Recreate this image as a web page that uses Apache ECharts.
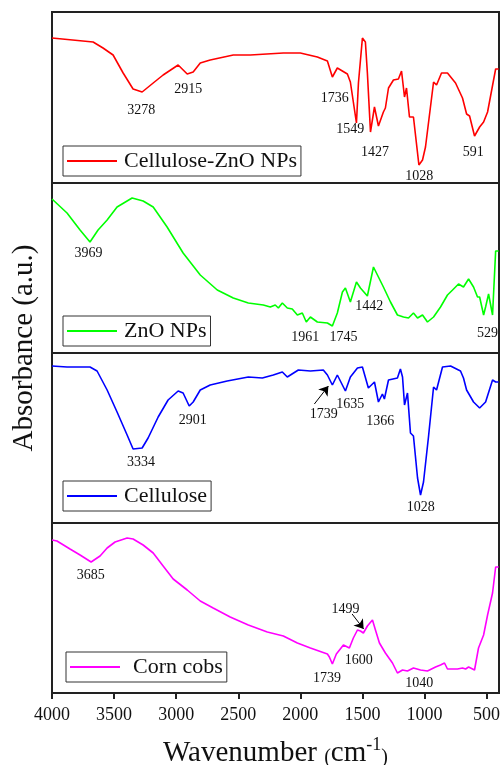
<!DOCTYPE html>
<html>
<head>
<meta charset="utf-8">
<script src="https://cdn.jsdelivr.net/npm/echarts@6/dist/echarts.min.js"></script>
<style>
  html, body { margin: 0; padding: 0; background: #fff; }
  #chart { width: 500px; height: 765px; }
</style>
</head>
<body>
<div id="chart"></div>
<script>
// spectra as [wavenumber, absorbance (a.u.)]
const cellZnoData = [[4000,145],[3669,141],[3589,135],[3508,128],[3427,110],[3347,94],[3274,91],[3185,100],[3105,108],[2984,118],[2911,109],[2863,111],[2806,120],[2726,123],[2540,128],[2403,128],[2137,130],[2000,130],[1863,126],[1782,122],[1742,106],[1702,115],[1621,109],[1597,101],[1581,100],[1548,60],[1532,100],[1500,145],[1476,141],[1460,110],[1435,51],[1403,76],[1371,57],[1331,71],[1315,75],[1290,95],[1250,103],[1210,104],[1185,112],[1161,86],[1145,95],[1121,66],[1089,66],[1045,18],[1016,23],[992,36],[927,101],[903,98],[863,110],[815,110],[750,100],[694,85],[661,69],[637,67],[597,47],[556,56],[524,61],[492,71],[476,70],[427,114],[403,114]]

const znoData = [[4000,154],[3879,140],[3774,123],[3694,111],[3629,123],[3556,133],[3476,146],[3355,155],[3266,152],[3185,146],[3073,126],[2944,100],[2806,78],[2669,63],[2540,55],[2419,50],[2298,48],[2242,46],[2202,48],[2177,45],[2145,50],[2105,45],[2065,44],[2024,38],[1984,40],[1952,31],[1919,36],[1863,31],[1782,30],[1742,27],[1702,40],[1661,61],[1637,65],[1597,51],[1548,71],[1516,65],[1460,57],[1411,86],[1371,76],[1331,66],[1274,51],[1218,38],[1169,36],[1129,35],[1089,40],[1056,35],[1016,38],[976,31],[927,36],[871,46],[815,58],[774,63],[726,69],[686,66],[645,74],[605,66],[573,56],[556,56],[524,38],[508,46],[484,59],[452,38],[427,102],[403,102]]

const celluloseData = [[4000,157],[3879,156],[3694,156],[3637,152],[3556,133],[3476,111],[3395,88],[3347,74],[3274,75],[3226,85],[3145,106],[3065,123],[2984,132],[2944,130],[2895,117],[2863,121],[2806,133],[2726,138],[2589,142],[2419,146],[2306,145],[2218,148],[2145,151],[2105,146],[2016,153],[1919,152],[1815,153],[1782,148],[1742,138],[1702,148],[1637,132],[1597,146],[1540,155],[1500,156],[1452,135],[1403,141],[1371,121],[1339,129],[1323,124],[1290,143],[1218,145],[1194,154],[1177,146],[1161,118],[1137,130],[1113,90],[1089,87],[1056,45],[1032,28],[1008,41],[968,86],[927,136],[903,133],[855,156],[790,157],[710,152],[686,145],[661,133],[645,134],[605,121],[556,115],[508,121],[452,143],[427,141],[403,141]]

const cornData = [[4000,153],[3960,152],[3855,144],[3774,138],[3685,131],[3613,137],[3556,145],[3492,151],[3395,155],[3347,154],[3266,148],[3185,140],[3105,127],[3024,114],[2911,103],[2806,92],[2702,85],[2565,76],[2419,68],[2266,61],[2137,57],[2024,50],[1919,45],[1782,39],[1766,36],[1742,29],[1710,39],[1653,48],[1605,45],[1573,55],[1540,63],[1516,62],[1492,60],[1460,67],[1419,73],[1395,63],[1363,50],[1315,40],[1258,30],[1218,20],[1177,23],[1137,22],[1089,25],[1032,23],[976,22],[911,26],[871,28],[855,26],[839,30],[815,24],[734,24],[694,25],[669,24],[645,26],[597,23],[565,45],[524,58],[492,78],[452,100],[427,126],[403,126]]

// peak labels: [text, wavenumber, absorbance] (where the text sits)
const cellZnoPeaks = [['3278',3282,73],['2915',2903,94],['1736',1722,85],['1549',1597,54],['1427',1398,31],['1028',1043,7],['591',607,31]]
const znoPeaks = [['3969',3707,100],['1961',1960,16],['1745',1653,16],['1442',1445,47],['529',492,20]]
const cellulosePeaks = [['3334',3284,61],['2901',2867,103],['1739',1812,109],['1635',1597,119],['1366',1357,102],['1028',1030,16]]
const cornPeaks = [['3685',3687,118],['1739',1785,15],['1600',1530,33],['1499',1637,84],['1040',1042,10]]

// arrows: [from, to]
const celluloseArrow = [[1887,119],[1774,137]]
const cornArrow = [[1583,79],[1490,64]]

const names = ['Cellulose-ZnO NPs', 'ZnO NPs', 'Cellulose', 'Corn cobs']
const colors = ['#ff0000', '#00ff00', '#0000ff', '#ff00ff']
const spectra = [cellZnoData, znoData, celluloseData, cornData]
const peaks = [cellZnoPeaks, znoPeaks, cellulosePeaks, cornPeaks]
const tickValues = [500, 1000, 1500, 2000, 2500, 3000, 3500, 4000]

const FONT = "'Liberation Serif', 'Times New Roman', serif"
const panelTops = [12, 183, 353, 523]
const panelHeights = [171, 170, 170, 170]
const legendPos = [[63, 146], [63, 316], [63, 481], [66, 652]]

const chart = echarts.init(document.getElementById('chart'), null, { renderer: 'canvas' })

const grids = panelTops.map((t, i) => ({
  left: 52,
  right: 1,
  top: t,
  height: panelHeights[i],
  show: true,
  borderColor: '#222',
  borderWidth: 2,
  outerBoundsMode: 'none',
  containLabel: false
}))

const xAxes = panelTops.map((t, i) => {
  const last = i === 3
  return {
    type: 'value',
    gridIndex: i,
    min: 400,
    max: 4000,
    inverse: true,
    splitLine: { show: false },
    axisLine: { show: last, onZero: false, lineStyle: { color: '#222', width: 2 } },
    axisTick: {
      show: last,
      inside: false,
      length: 6,
      customValues: tickValues,
      lineStyle: { color: '#222', width: 2 }
    },
    axisLabel: {
      show: last,
      customValues: tickValues,
      formatter: v => String(v),
      margin: 13,
      fontSize: 18,
      fontFamily: FONT,
      color: '#111'
    },
    name: last ? '{a|Wavenumber }{p|(}{a|cm}{s|-1}{p|)}' : '',
    nameLocation: 'middle',
    nameGap: 43,
    nameTextStyle: {
      color: '#111',
      fontFamily: FONT,
      rich: {
        a: { fontSize: 29, fontFamily: FONT, color: '#111', verticalAlign: 'bottom', lineHeight: 32 },
        p: { fontSize: 20, fontFamily: FONT, color: '#111', verticalAlign: 'bottom', lineHeight: 32 },
        s: { fontSize: 18, fontFamily: FONT, color: '#111', verticalAlign: 'top', lineHeight: 32 }
      }
    }
  }
})

const yAxes = panelTops.map((t, i) => ({
  type: 'value',
  gridIndex: i,
  min: 0,
  max: panelHeights[i],
  show: false
}))

const legends = names.map((n, i) => ({
  data: [n],
  left: legendPos[i][0],
  top: legendPos[i][1],
  orient: 'horizontal',
  padding: [4, 4, 4, 4],
  borderColor: '#333',
  borderWidth: 1,
  itemWidth: 50,
  itemHeight: 2,
  icon: 'rect',
  selectedMode: false,
  textStyle: {
    fontSize: 22,
    fontFamily: FONT,
    color: '#111',
    padding: i === 3 ? [0, 0, 0, 8] : [0, 0, 0, 2]
  }
}))

const series = []
spectra.forEach((d, i) => {
  series.push({
    type: 'line',
    name: names[i],
    xAxisIndex: i,
    yAxisIndex: i,
    data: d,
    symbol: 'none',
    color: colors[i],
    lineStyle: { color: colors[i], width: 1.6 },
    z: 3
  })
  series.push({
    type: 'scatter',
    name: 'peaks' + i,
    xAxisIndex: i,
    yAxisIndex: i,
    symbolSize: 0,
    silent: true,
    itemStyle: { opacity: 1, color: 'transparent' },
    data: peaks[i].map(p => ({ name: p[0], value: [p[1], p[2]] })),
    label: {
      show: true,
      position: 'inside',
      formatter: '{b}',
      fontSize: 14,
      fontFamily: FONT,
      color: '#111',
      opacity: 1,
      textBorderWidth: 0
    },
    z: 4
  })
})

const arrowStyle = { color: '#000', width: 1, opacity: 1, curveness: 0 }
series.push({
  type: 'lines',
  coordinateSystem: 'cartesian2d',
  xAxisIndex: 2,
  yAxisIndex: 2,
  symbol: ['none', 'arrow'],
  symbolSize: 9,
  lineStyle: arrowStyle,
  data: [{ coords: celluloseArrow }],
  silent: true
})
series.push({
  type: 'lines',
  coordinateSystem: 'cartesian2d',
  xAxisIndex: 3,
  yAxisIndex: 3,
  symbol: ['none', 'arrow'],
  symbolSize: 9,
  lineStyle: arrowStyle,
  data: [{ coords: cornArrow }],
  silent: true
})

chart.setOption({
  animation: false,
  backgroundColor: '#fff',
  grid: grids,
  xAxis: xAxes,
  yAxis: yAxes,
  legend: legends,
  series: series,
  graphic: [{
    type: 'text',
    x: 24,
    y: 348,
    rotation: Math.PI / 2,
    style: {
      text: 'Absorbance (a.u.)',
      fontSize: 29,
      fontFamily: FONT,
      fill: '#111',
      align: 'center',
      verticalAlign: 'middle'
    }
  }]
})
</script>
</body>
</html>
